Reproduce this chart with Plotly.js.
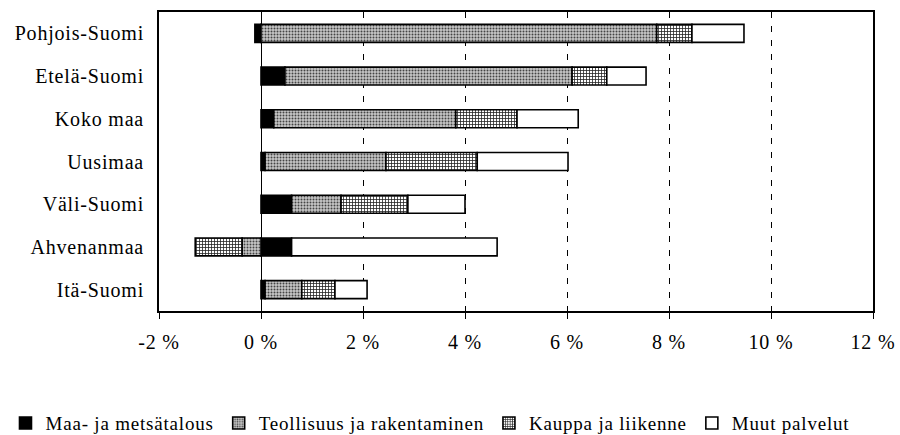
<!DOCTYPE html>
<html>
<head>
<meta charset="utf-8">
<script src="https://cdn.plot.ly/plotly-3.0.1.min.js"></script>
<style>html,body{margin:0;padding:0;background:#fff;}#chart{width:900px;height:435px;}
svg text{font-family:'Liberation Serif',serif !important;letter-spacing:0.8px;}</style>
</head>
<body>
<div id="chart"></div>
<script>
const regions = ["Pohjois-Suomi", "Etelä-Suomi", "Koko maa", "Uusimaa", "Väli-Suomi", "Ahvenanmaa", "Itä-Suomi"];
const maa = [-0.12, 0.47, 0.25, 0.08, 0.6, 0.6, 0.08];
const teollisuus = [7.76, 5.63, 3.57, 2.37, 0.97, -0.37, 0.72];
const kauppa = [0.69, 0.68, 1.2, 1.79, 1.31, -0.92, 0.65];
const muut = [1.02, 0.77, 1.2, 1.78, 1.12, 4.03, 0.63];
const seriesNames = ["Maa- ja metsätalous", "Teollisuus ja rakentaminen", "Kauppa ja liikenne", "Muut palvelut"];
const tickVals = [-2, 0, 2, 4, 6, 8, 10, 12];
const tickText = ["-2 %", "0 %", "2 %", "4 %", "6 %", "8 %", "10 %", "12 %"];

const line = {color: "#000", width: 1.6};
const traces = [
  {name: seriesNames[0], x: maa, y: regions, type: "bar", orientation: "h",
   marker: {color: "#000", line: line}},
  {name: seriesNames[1], x: teollisuus, y: regions, type: "bar", orientation: "h",
   marker: {color: "#b4b4b4", line: line, pattern: {shape: ".", fgcolor: "#444", bgcolor: "#c8c8c8", size: 3, solidity: 0.35, fillmode: "replace"}}},
  {name: seriesNames[2], x: kauppa, y: regions, type: "bar", orientation: "h",
   marker: {color: "#fff", line: line, pattern: {shape: "+", fgcolor: "#222", bgcolor: "#fff", size: 3, solidity: 0.45, fillmode: "replace"}}},
  {name: seriesNames[3], x: muut, y: regions, type: "bar", orientation: "h",
   marker: {color: "#fff", line: line}}
];

const font = {family: "Liberation Serif", size: 20, color: "#000"};
const legendFont = {family: "Liberation Serif", size: 19, color: "#000"};
const layout = {
  width: 900, height: 435,
  margin: {l: 159, r: 27, t: 12, b: 124, autoexpand: false},
  paper_bgcolor: "#fff", plot_bgcolor: "#fff",
  barmode: "relative", bargap: 0.58,
  font: font,
  showlegend: true,
  legend: {orientation: "h", xref: "paper", x: -0.215, xanchor: "left", yref: "paper", y: -0.375, yanchor: "middle",
    font: legendFont, itemwidth: 30, traceorder: "normal"},
  xaxis: {range: [-2, 12], tickvals: tickVals, ticktext: tickText, showgrid: true, gridcolor: "#000", griddash: "6px,8px", gridwidth: 1,
    zeroline: true, zerolinecolor: "#000", zerolinewidth: 1,
    showline: true, linecolor: "#000", linewidth: 2, mirror: true,
    ticks: "outside", ticklen: 6, tickcolor: "#000", ticklabelstandoff: 6, fixedrange: true},
  yaxis: {type: "category", autorange: "reversed", showgrid: false, zeroline: false,
    showline: true, linecolor: "#000", linewidth: 2, mirror: true,
    ticks: "", ticklabelstandoff: 9, fixedrange: true}
};
Plotly.newPlot("chart", traces, layout, {displayModeBar: false, staticPlot: true});
</script>
</body>
</html>
